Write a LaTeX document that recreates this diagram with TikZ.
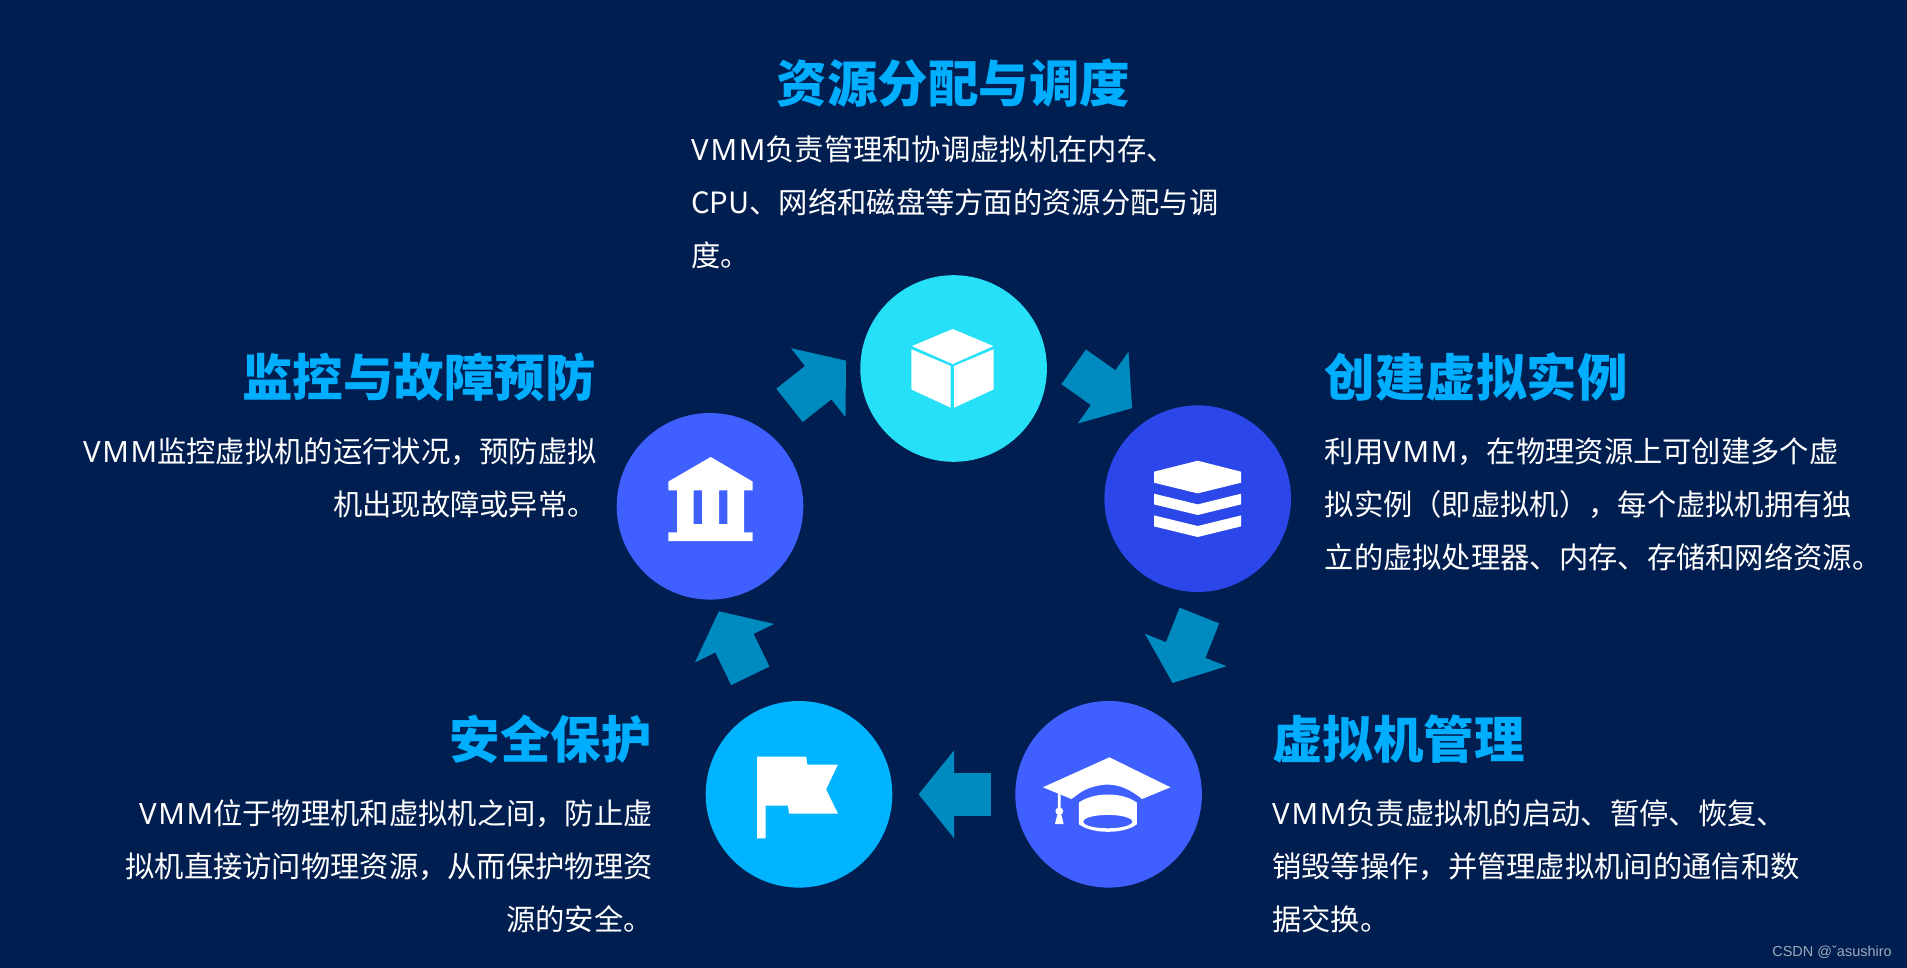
\documentclass[tikz,border=0pt]{standalone}
\usepackage{fontspec}
\setmainfont{Noto Sans CJK SC}
\newfontfamily\latinfont{Noto Sans}[LetterSpace=6]
\usetikzlibrary{arrows.meta, positioning}

\definecolor{bgnavy}{HTML}{001E50}
\definecolor{hubcyan}{HTML}{26E0F7}
\definecolor{hubroyal}{HTML}{2B47EA}
\definecolor{hubblue}{HTML}{3F5FFF}
\definecolor{hubsky}{HTML}{00B4FF}
\definecolor{flowblue}{HTML}{008BC0}
\definecolor{headblue}{HTML}{00AEFF}
\newcommand\vmm{{\latinfont VMM}}

\begin{document}
\begin{tikzpicture}[
  x=1pt, y=-1pt,
  hub/.style={circle, minimum size=186.6pt, inner sep=0pt, outer sep=0pt},
  flow/.style={draw=flowblue, line width=42.5pt, -{Triangle[length=35.5pt, width=86pt, color=flowblue]}},
  head/.style={font=\fontsize{50.5}{60}\selectfont\bfseries, text=headblue, inner sep=0pt},
  note/.style={font=\fontsize{29.3}{53}\selectfont, text=white, inner sep=0pt},
  icon/.style={fill=white, even odd rule}
]
  \useasboundingbox (0,0) rectangle (1907,968);
  \fill[bgnavy] (0,0) rectangle (1907,968);

  \node[hub, fill=hubcyan] (cube) at (953.6,368.5) {};
  \node[hub, fill=hubroyal] (stack) at (1197.7,498.7) {};
  \node[hub, fill=hubblue] (cap) at (1108.6,794.3) {};
  \node[hub, fill=hubsky] (flag) at (799,794.3) {};
  \node[hub, fill=hubblue] (bank) at (710,506.3) {};

  \draw[flow, shorten <=36.2pt, shorten >=19.8pt] (cube.14.6) -- (stack.122.3);
  \draw[flow, shorten <=26.1pt, shorten >=35.6pt] (stack.-83.8) -- (cap.57.2);
  \draw[flow, shorten <=24.6pt, shorten >=26.3pt] (cap.west) -- (flag.east);
  \draw[flow, shorten <=34.9pt, shorten >=13pt] (flag.111.6) -- (bank.-88.4);
  \draw[flow, shorten <=36.6pt, shorten >=21.2pt] (bank.57.2) -- (cube.167);

  % cube
  \begin{scope}[shift={(cube)}]
    \fill[icon] (-0.9,-39.5) -- (39.7,-22.4) -- (-0.9,-4.5) -- (-41.6,-22.4) -- cycle;
    \fill[icon] (-42.3,-19.2) -- (-2.9,-2.5) -- (-2.9,39.2) -- (-42.3,20.9) -- cycle;
    \fill[icon] (0.4,-2.5) -- (40.1,-19.2) -- (40.1,20.9) -- (0.4,39.2) -- cycle;
  \end{scope}
  % layers
  \begin{scope}[shift={(stack)}]
    \fill[icon] (0,-38) -- (43.3,-27) -- (43.3,-16) -- (0,-5.3) -- (-43.7,-16) -- (-43.7,-27) -- cycle;
    \fill[icon] (-43.7,-5) -- (0,5.7) -- (43.3,-5) -- (43.3,5.7) -- (0,16.3) -- (-43.7,5.7) -- cycle;
    \fill[icon] (-43.7,16.7) -- (0,27.3) -- (43.3,16.7) -- (43.3,27.7) -- (0,38.3) -- (-43.7,27.7) -- cycle;
  \end{scope}
  % graduation cap
  \begin{scope}[shift={(cap)}]
    \fill[icon] (0.8,-37) -- (61.8,-7) -- (33.5,4.7) .. controls (21.4,-5) and (10.7,-9.7) .. (-1.1,-9.7)
      .. controls (-10.7,-9.7) and (-21.4,-6) .. (-26.8,-2.7) -- (-37.2,4.7) -- (-65.7,-7) -- cycle;
    \fill[icon] (-29.7,8.3) .. controls (-16,-2) and (12.9,-3) .. (28.2,8.3) -- (28.2,30)
      .. controls (15,40) and (-16,40) .. (-29.7,30) -- cycle
      (-0.8,27.3) ellipse [x radius=24.6, y radius=6.7];
    \fill[icon] (-50.7,-1) -- (-47.9,0.7) -- (-47.9,15) -- (-50.7,15) -- cycle;
    \fill[icon] (-49.3,17) circle [radius=3.9];
    \fill[icon] (-51.4,20.7) -- (-47.1,20.7) -- (-45,29.7) -- (-53.6,29.7) -- cycle;
  \end{scope}
  % flag
  \begin{scope}[shift={(flag)}]
    \fill[icon] (-41.8,-37.7) -- (7.2,-37.7) -- (8.3,-29.7) -- (38.9,-29.7) -- (27.1,-5) -- (38.9,19.3)
      -- (-10,19.3) -- (-11,11.3) -- (-33.5,11.3) -- (-33.5,44) -- (-41.8,44) -- cycle;
  \end{scope}
  % bank
  \begin{scope}[shift={(bank)}]
    \fill[icon] (0.7,-49.3) -- (42.7,-24.7) -- (42.7,-16) -- (34,-16) -- (34,26) -- (42.7,26) -- (42.7,34.7)
      -- (-41.7,34.7) -- (-41.7,26) -- (-33,26) -- (-33,-16) -- (-41.7,-16) -- (-41.7,-24.7) -- cycle
      (-16.3,-16) rectangle (-8,17.7) (9,-16) rectangle (17.3,17.7);
  \end{scope}

  \node[head] (cubehead) at (953.6,83) {资源分配与调度};
  \node[note, anchor=north west, align=left] (cubenote) at (691,135.5)
    {\vmm{}负责管理和协调虚拟机在内存、\\CPU、网络和磁盘等方面的资源分配与调\\度。};

  \node[head, anchor=west] (stackhead) at (1324.5,377) {创建虚拟实例};
  \node[note, anchor=north west, align=left] (stacknote) at (1324.5,437.5)
    {利用\vmm{}，在物理资源上可创建多个虚\\拟实例（即虚拟机），每个虚拟机拥有独\\立的虚拟处理器、内存、存储和网络资源。};

  \node[head, anchor=west] (caphead) at (1272,739) {虚拟机管理};
  \node[note, anchor=north west, align=left] (capnote) at (1272,799.5)
    {\vmm{}负责虚拟机的启动、暂停、恢复、\\销毁等操作，并管理虚拟机间的通信和数\\据交换。};

  \node[head, anchor=east] (flaghead) at (652,739) {安全保护};
  \node[note, anchor=north east, align=right] (flagnote) at (653,799.5)
    {\vmm{}位于物理机和虚拟机之间，防止虚\\拟机直接访问物理资源，从而保护物理资\\源的安全。};

  \node[head, anchor=east] (bankhead) at (596,377) {监控与故障预防};
  \node[note, anchor=north east, align=right] (banknote) at (597,437.5)
    {\vmm{}监控虚拟机的运行状况，预防虚拟\\机出现故障或异常。};

  \node[anchor=east, inner sep=0pt, text=white!62!bgnavy, font=\fontsize{14.5}{16}\selectfont] (mark) at (1892,952)
    {\fontspec{Liberation Sans}CSDN @ˇasushiro};
\end{tikzpicture}
\end{document}
